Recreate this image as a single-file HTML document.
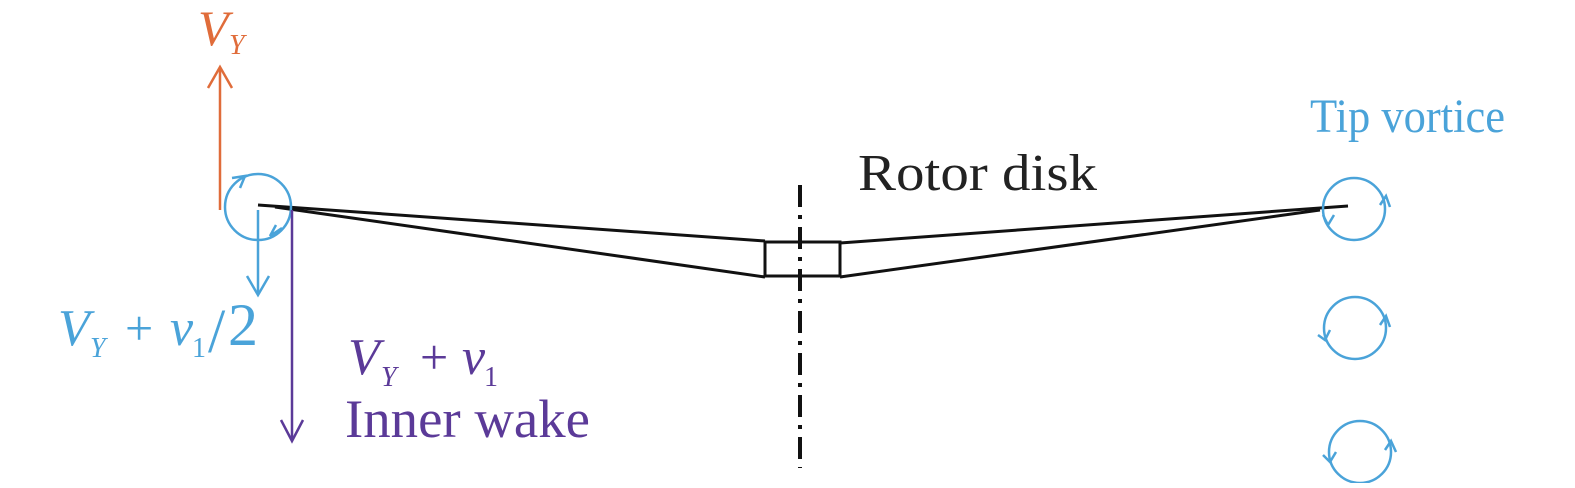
<!DOCTYPE html>
<html><head><style>
body{margin:0;background:#fff;width:1575px;height:483px;overflow:hidden}
text{font-family:"Liberation Serif",serif}
</style></head><body>
<svg width="1575" height="483" viewBox="0 0 1575 483" xmlns="http://www.w3.org/2000/svg">
<g stroke="#111" stroke-width="3" fill="none">
<line x1="258" y1="205" x2="765" y2="241"/>
<line x1="275" y1="207" x2="765" y2="277"/>
<line x1="840" y1="243" x2="1348" y2="206"/>
<line x1="840" y1="277" x2="1320" y2="210"/>
<rect x="765" y="242" width="75" height="34"/>
</g>
<line x1="800" y1="185" x2="800" y2="468" stroke="#111" stroke-width="4" stroke-dasharray="22,8,4,8"/>
<g stroke="#e06c3a" stroke-width="2.5" fill="none">
<line x1="220" y1="210" x2="220" y2="68"/>
<polyline points="208,88 220,67 232,88"/>
</g>
<text x="198" y="45" font-size="50" font-style="italic" fill="#e06c3a">V</text>
<text x="229" y="54" font-size="28" font-style="italic" fill="#e06c3a">Y</text>
<g stroke="#4aa3d9" stroke-width="2.5" fill="none">
<circle cx="258" cy="207" r="33"/>
<line x1="258" y1="210" x2="258" y2="294"/>
<polyline points="247,276 258,295 269,276"/>
<polyline points="232,178 245,176 240,188"/>
<polyline points="282,228 270,236 276,225"/>
<circle cx="1354" cy="209" r="31"/>
<circle cx="1355" cy="328" r="31"/>
<circle cx="1360" cy="452" r="31"/>
<polyline points="1380,205 1386,196 1390,207"/>
<polyline points="1323,215 1328,225 1334,215"/>
<polyline points="1380,325 1386,316 1390,327"/>
<polyline points="1318,335 1325,340 1330,330"/>
<polyline points="1385,450 1391,441 1396,452"/>
<polyline points="1323,455 1330,462 1336,452"/>
</g>
<text x="58" y="345" font-size="52" font-style="italic" fill="#4aa3d9">V</text>
<text x="90" y="357" font-size="28" font-style="italic" fill="#4aa3d9">Y</text>
<text x="125" y="345" font-size="50" fill="#4aa3d9">+</text>
<text x="170" y="345" font-size="52" font-style="italic" fill="#4aa3d9">v</text>
<text x="192" y="357" font-size="28" fill="#4aa3d9">1</text>
<text x="208" y="352" font-size="62" fill="#4aa3d9">/</text>
<text x="228" y="345" font-size="60" fill="#4aa3d9">2</text>
<text x="1310" y="132" font-size="48" fill="#4aa3d9" textLength="195" lengthAdjust="spacingAndGlyphs">Tip vortice</text>
<g stroke="#5b3a98" stroke-width="2.5" fill="none">
<line x1="292" y1="210" x2="292" y2="440"/>
<polyline points="281,420 292,441 303,420"/>
</g>
<text x="348" y="374" font-size="52" font-style="italic" fill="#5b3a98">V</text>
<text x="381" y="386" font-size="28" font-style="italic" fill="#5b3a98">Y</text>
<text x="420" y="374" font-size="50" fill="#5b3a98">+</text>
<text x="462" y="374" font-size="52" font-style="italic" fill="#5b3a98">v</text>
<text x="484" y="386" font-size="28" fill="#5b3a98">1</text>
<text x="345" y="437" font-size="54" fill="#5b3a98" textLength="245" lengthAdjust="spacingAndGlyphs">Inner wake</text>
<text x="858" y="190" font-size="52" fill="#222" textLength="239" lengthAdjust="spacingAndGlyphs">Rotor disk</text>
</svg>
</body></html>
